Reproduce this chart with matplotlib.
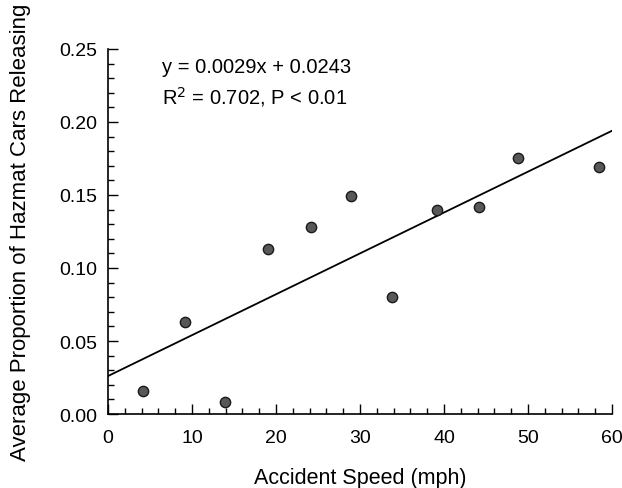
import matplotlib
matplotlib.use("Agg")
import matplotlib.pyplot as plt
from matplotlib.ticker import MultipleLocator, FormatStrFormatter
import numpy as np

plt.rcParams['font.family'] = ['Liberation Sans', 'DejaVu Sans']

speed = [4.2, 9.2, 13.9, 19.0, 24.2, 28.9, 33.8, 39.2, 44.2, 48.8, 58.5]
proportion = [0.016, 0.063, 0.008, 0.113, 0.128, 0.149, 0.080, 0.140, 0.142, 0.175, 0.169]
fit_intercept = 0.026
fit_slope = 0.0028
eq_text = "y = 0.0029x + 0.0243"
r2_text = "R$^2$ = 0.702, P < 0.01"

fig = plt.figure(figsize=(6.22, 4.89), dpi=100)
ax = fig.add_axes([0.1736, 0.1513, 0.8104, 0.7465])

xs = np.array([0, 60])
ax.plot(xs, fit_intercept + fit_slope * xs, color='black', lw=1.3, zorder=2)
ax.scatter(speed, proportion, s=55, facecolor='#585858', edgecolor='#1a1a1a', linewidth=1.0, zorder=3)

ax.set_xlim(0, 60)
ax.set_ylim(0, 0.25)
ax.xaxis.set_major_locator(MultipleLocator(10))
ax.xaxis.set_minor_locator(MultipleLocator(2))
ax.yaxis.set_major_locator(MultipleLocator(0.05))
ax.yaxis.set_minor_locator(MultipleLocator(0.01))
ax.yaxis.set_major_formatter(FormatStrFormatter('%.2f'))

for s in ['top', 'right']:
    ax.spines[s].set_visible(False)
for s in ['left', 'bottom']:
    ax.spines[s].set_linewidth(1.2)

ax.tick_params(which='major', direction='in', length=7, width=1.0, labelsize=14)
ax.tick_params(axis='x', which='major', pad=11)
ax.tick_params(axis='y', which='major', pad=8)
ax.tick_params(which='minor', direction='in', length=4.5, width=1.0)

ax.set_xlabel('Accident Speed (mph)', fontsize=15.5, labelpad=15)
ax.set_ylabel('Average Proportion of Hazmat Cars Releasing', fontsize=16, labelpad=20)

ax.text(6.4, 0.2377, eq_text, fontsize=14.5, va='center', ha='left')
ax.text(6.4, 0.2178, r2_text, fontsize=14.5, va='center', ha='left')

fig.savefig('out.png', dpi=100)
